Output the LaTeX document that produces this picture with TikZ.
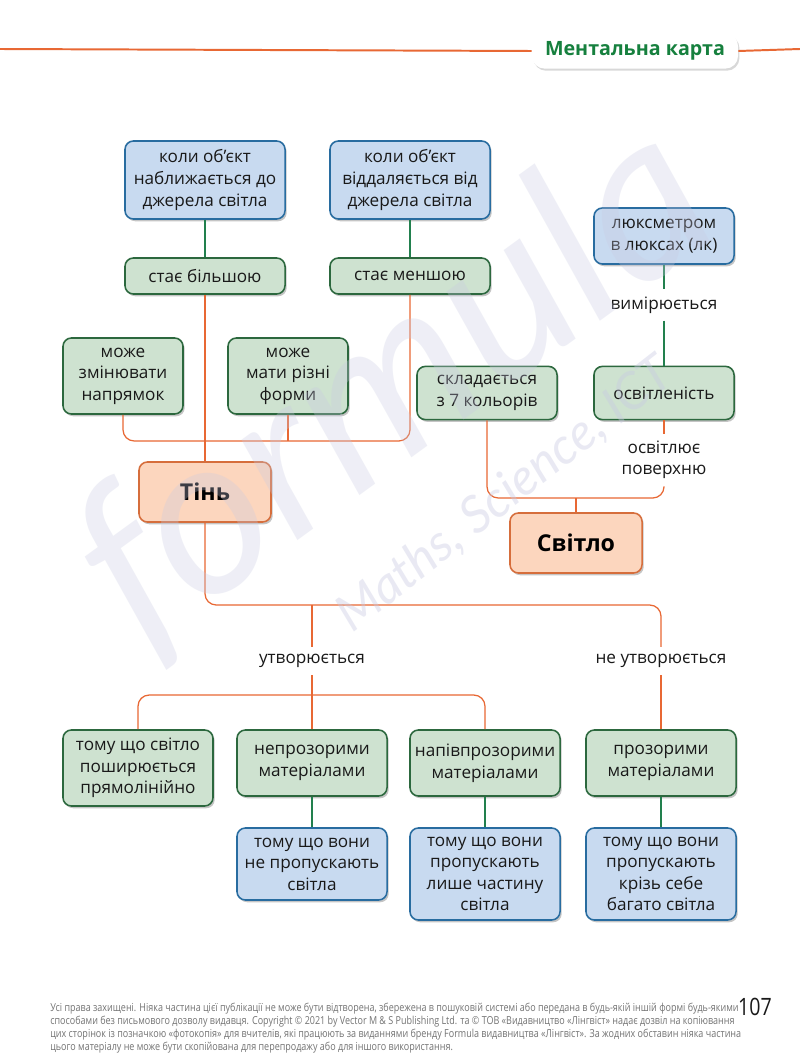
\documentclass[tikz,border=0pt]{standalone}
\usepackage{fontspec}
\setmainfont{Open Sans}
\newfontfamily\footfont[FakeStretch=0.82]{Open Sans}
\newfontfamily\markfont{Lato}
\usetikzlibrary{positioning,shadows}
\definecolor{lineorange}{RGB}{232,104,52}
\definecolor{linegreen}{RGB}{34,128,78}
\definecolor{boxgreen}{RGB}{206,226,208}
\definecolor{edgegreen}{RGB}{44,104,62}
\definecolor{boxblue}{RGB}{200,218,240}
\definecolor{edgeblue}{RGB}{40,108,160}
\definecolor{boxpeach}{RGB}{252,214,190}
\definecolor{edgepeach}{RGB}{214,110,60}
\definecolor{titlegreen}{RGB}{22,128,62}
\definecolor{inkdark}{RGB}{25,25,25}
\definecolor{markgray}{RGB}{200,202,226}

\begin{document}
\begin{tikzpicture}[x=0.025cm,y=-0.025cm,
    base/.style={rectangle,rounded corners=6pt,line width=1.1pt,align=center,
                 text=inkdark,font=\fontsize{12.2}{15.3}\selectfont,inner sep=2pt,
                 drop shadow={shadow xshift=1.2pt,shadow yshift=-1.6pt,opacity=0.45}},
    gbox/.style={base,draw=edgegreen,fill=boxgreen},
    bbox/.style={base,draw=edgeblue,fill=boxblue},
    pbox/.style={base,draw=edgepeach,fill=boxpeach,text=black,font=\fontsize{16.5}{19}\selectfont\bfseries,
                 minimum width=3.3cm,minimum height=1.5cm},
    lbl/.style={font=\fontsize{12.2}{15.3}\selectfont,text=inkdark,align=center,inner sep=5pt},
    og/.style={draw=lineorange,line width=0.9pt,rounded corners=8pt},
    gr/.style={draw=linegreen,line width=0.9pt}]
  \useasboundingbox[fill=white] (0,0) rectangle (800,1058);
  % header
  \node[fill=white,rounded corners=9pt,minimum width=5.15cm,minimum height=0.88cm,
        font=\fontsize{14}{16}\selectfont\bfseries,text=titlegreen,
        drop shadow={shadow xshift=1pt,shadow yshift=-1.5pt,opacity=0.3}] (title) at (635,51) {Ментальна карта};
  \draw[lineorange,line width=1.4pt] (0,49) -- (title.west);
  \draw[lineorange,line width=1.4pt] (title.east) -- (800,49);
  % shadow side
  \node[bbox,minimum width=4cm,minimum height=1.95cm] (near) at (205,180) {коли об’єкт\\наближається до\\джерела світла};
  \node[bbox,minimum width=4cm,minimum height=1.95cm] (far) at (410,180) {коли об’єкт\\віддаляється від\\джерела світла};
  \node[gbox,minimum width=4cm,minimum height=0.9cm] (bigger) at (205,276) {стає більшою};
  \node[gbox,minimum width=4cm,minimum height=0.9cm] (smaller) at (410,276) {стає меншою};
  \node[gbox,minimum width=3cm,minimum height=1.9cm] (dir) at (123,376) {може\\змінювати\\напрямок};
  \node[gbox,minimum width=3cm,minimum height=1.9cm] (forms) at (288,376) {може\\мати різні\\форми};
  \node[pbox] (shade) at (205,492) {Тінь};
  \coordinate (tjoin) at (288,441);
  \draw[gr] (near) -- (bigger);
  \draw[gr] (far) -- (smaller);
  \draw[og] (bigger) -- (shade);
  \draw[og] (dir.south) |- (tjoin) -| (smaller.south);
  \draw[og] (forms) -- (tjoin);
  % light side
  \node[bbox,minimum width=3.5cm,minimum height=1.4cm] (lux) at (664,236) {люксметром\\в люксах (лк)};
  \node[lbl] (meas) at (664,305) {вимірюється};
  \node[gbox,minimum width=3.5cm,minimum height=1.33cm] (illum) at (664,393) {освітленість};
  \node[gbox,minimum width=3.5cm,minimum height=1.33cm] (colors) at (487,393) {складається\\з 7 кольорів};
  \node[lbl] (lights) at (664,460) {освітлює\\поверхню};
  \node[pbox] (light) at (576,543) {Світло};
  \coordinate (ljoin) at (576,498);
  \draw[gr] (lux) -- (meas);
  \draw[gr] (meas) -- (illum);
  \draw[og] (illum) -- (lights);
  \draw[og] (colors.south) |- (ljoin) -| (lights.south);
  \draw[og] (ljoin) -- (light);
  % materials
  \node[lbl] (forming) at (312,661) {утворюється};
  \node[lbl] (noforming) at (661,661) {не утворюється};
  \node[gbox,minimum width=3.75cm,minimum height=1.9cm] (straight) at (138,768) {тому що світло\\поширюється\\прямолінійно};
  \node[gbox,minimum width=3.75cm,minimum height=1.65cm] (opaque) at (312,763) {непрозорими\\матеріалами};
  \node[gbox,minimum width=3.75cm,minimum height=1.65cm] (semi) at (485,763) {напівпрозорими\\матеріалами};
  \node[gbox,minimum width=3.75cm,minimum height=1.65cm] (clear) at (661,763) {прозорими\\матеріалами};
  \node[bbox,minimum width=3.75cm,minimum height=1.8cm] (nopass) at (312,864) {тому що вони\\не пропускають\\світла};
  \node[bbox,minimum width=3.75cm,minimum height=2.3cm] (partpass) at (485,874) {тому що вони\\пропускають\\лише частину\\світла};
  \node[bbox,minimum width=3.75cm,minimum height=2.3cm] (allpass) at (661,874) {тому що вони\\пропускають\\крізь себе\\багато світла};
  \coordinate (bjoin) at (312,605);
  \coordinate (ajoin) at (312,695);
  \draw[og] (shade.south) |- (bjoin) -| (noforming.north);
  \draw[og] (bjoin) -- (forming);
  \draw[og] (forming) -- (opaque);
  \draw[og] (straight.north) |- (ajoin) -| (semi.north);
  \draw[og] (noforming) -- (clear);
  \draw[gr] (opaque) -- (nopass);
  \draw[gr] (semi) -- (partpass);
  \draw[gr] (clear) -- (allpass);
  % watermark
  \node[rotate=36,font=\markfont\itshape\fontsize{160}{160}\selectfont,text=markgray,opacity=0.3] (mark) at (395,385) {formula};
  \node[rotate=38,font=\markfont\itshape\fontsize{36}{36}\selectfont,text=markgray,opacity=0.4] (marksub) at (505,495) {Maths, Science, ICT};
  % footer
  \node[anchor=north west,inner sep=0,align=left,text=black!55,
        font=\footfont\fontsize{7.8}{9.2}\selectfont] (legal) at (50,1003)
    {Усі права захищені. Ніяка частина цієї публікації не може бути відтворена, збережена в пошуковій системі або передана в будь-якій іншій формі будь-якими\\
     способами без письмового дозволу видавця. Copyright © 2021 by Vector M \& S Publishing Ltd. та © ТОВ «Видавництво «Лінгвіст» надає дозвіл на копіювання\\
     цих сторінок із позначкою «фотокопія» для вчителів, які працюють за виданнями бренду Formula видавництва «Лінгвіст». За жодних обставин ніяка частина\\
     цього матеріалу не може бути скопійована для перепродажу або для іншого використання.};
  \node[inner sep=0,text=inkdark,font=\footfont\fontsize{17}{17}\selectfont] (page) at (755,1007) {107};
\end{tikzpicture}
\end{document}
